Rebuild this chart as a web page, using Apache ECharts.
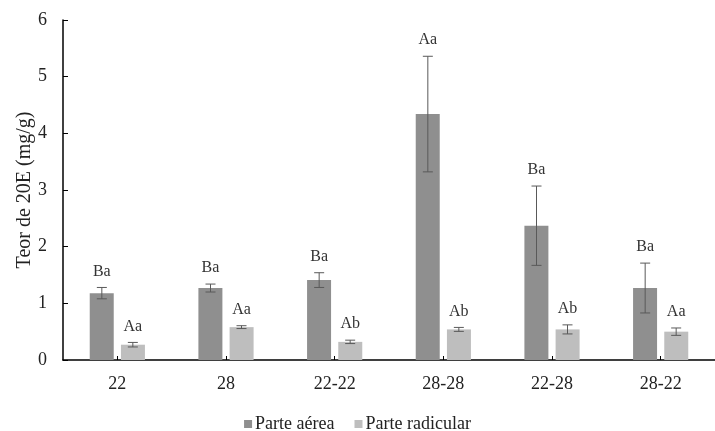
<!DOCTYPE html>
<html>
<head>
<meta charset="utf-8">
<script src="https://cdn.jsdelivr.net/npm/echarts@6/dist/echarts.min.js"></script>
<style>html,body{margin:0;padding:0;background:#fff;}#c{width:715px;height:431px;}</style>
</head>
<body>
<div id="c"></div>
<script>
var categories = ['22', '28', '22-22', '28-28', '22-28', '28-22'];
var seriesNames = ['Parte aérea', 'Parte radicular'];
var aereaValues = [1.18, 1.27, 1.41, 4.34, 2.37, 1.27];
var aereaErrors = [0.10, 0.07, 0.13, 1.02, 0.70, 0.44];
var aereaLetters = ['Ba', 'Ba', 'Ba', 'Aa', 'Ba', 'Ba'];
var radicularValues = [0.27, 0.58, 0.32, 0.54, 0.54, 0.50];
var radicularErrors = [0.04, 0.025, 0.03, 0.035, 0.08, 0.065];
var radicularLetters = ['Aa', 'Aa', 'Ab', 'Ab', 'Ab', 'Aa'];
var yTicks = [0, 1, 2, 3, 4, 5, 6];

var FONT = '"Liberation Serif", "Times New Roman", serif';

function errSeries(values, errors, letters, offset) {
  return {
    type: 'custom',
    silent: true,
    z: 5,
    data: values.map(function (v, i) { return [i, v, errors[i]]; }),
    renderItem: function (params, api) {
      var i = api.value(0), v = api.value(1), e = api.value(2);
      var top = api.coord([i, v + e]);
      var bot = api.coord([i, v - e]);
      var x = top[0] + offset;
      var cap = 5;
      var st = { stroke: '#595959', lineWidth: 1 };
      return {
        type: 'group',
        children: [
          { type: 'line', shape: { x1: x, y1: top[1], x2: x, y2: bot[1] }, style: st },
          { type: 'line', shape: { x1: x - cap, y1: top[1], x2: x + cap, y2: top[1] }, style: st },
          { type: 'line', shape: { x1: x - cap, y1: bot[1], x2: x + cap, y2: bot[1] }, style: st },
          { type: 'text', style: { x: x, y: top[1] - 8, text: letters[params.dataIndex], fill: '#333',
              font: '16px ' + FONT, textAlign: 'center', textVerticalAlign: 'bottom' } }
        ]
      };
    }
  };
}

var chart = echarts.init(document.getElementById('c'));
chart.setOption({
  animation: false,
  backgroundColor: '#fff',
  grid: { left: 63, right: 0, top: 20, bottom: 71, outerBoundsMode: 'none', containLabel: false },
  legend: {
    left: 'center', top: 410,
    itemWidth: 8, itemHeight: 8, itemGap: 20,
    icon: 'rect',
    textStyle: { fontFamily: FONT, fontSize: 18, color: '#222', padding: [0, 0, 0, -2] },
    data: seriesNames
  },
  xAxis: {
    type: 'category',
    data: categories,
    axisLine: { lineStyle: { color: '#000', width: 1.5 } },
    axisTick: { show: true, inside: true, alignWithLabel: true, length: 4, lineStyle: { color: '#000' } },
    axisLabel: { fontFamily: FONT, fontSize: 18, color: '#222', margin: 15 }
  },
  yAxis: {
    type: 'value',
    min: yTicks[0], max: yTicks[yTicks.length - 1], interval: 1,
    name: 'Teor de 20E (mg/g)',
    nameLocation: 'middle',
    nameRotate: 90,
    nameGap: 28,
    nameMoveOverlap: false,
    nameTextStyle: { fontFamily: FONT, fontSize: 20, color: '#222' },
    axisLine: { show: true, lineStyle: { color: '#000', width: 1.5 } },
    axisTick: { show: true, inside: true, length: 5, lineStyle: { color: '#000' } },
    axisLabel: { fontFamily: FONT, fontSize: 18, color: '#222', margin: 16 },
    splitLine: { show: false }
  },
  series: [
    { name: seriesNames[0], type: 'bar', data: aereaValues, barWidth: 24, barGap: '30%',
      itemStyle: { color: '#8f8f8f' } },
    { name: seriesNames[1], type: 'bar', data: radicularValues, barWidth: 24,
      itemStyle: { color: '#bebebe' } },
    errSeries(aereaValues, aereaErrors, aereaLetters, -15.5),
    errSeries(radicularValues, radicularErrors, radicularLetters, 15.5)
  ]
});
</script>
</body>
</html>
